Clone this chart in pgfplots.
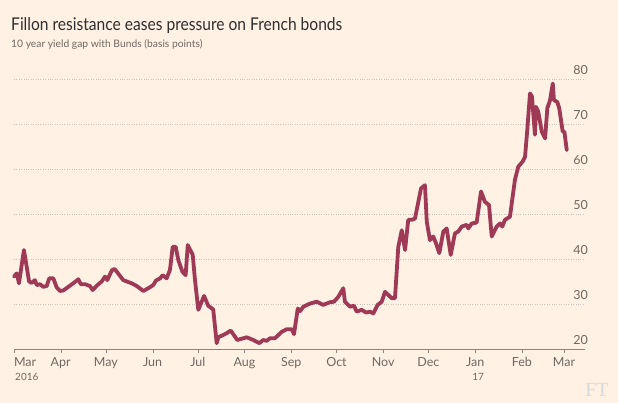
\documentclass[border=0pt]{standalone}
\usepackage{pgfplots}
\pgfplotsset{compat=1.18}
\usepackage{pgfplotstable}
\usepackage{fontspec}
\setmainfont{Lato}
\newfontfamily\ftserif{Liberation Serif}
\definecolor{bg}{HTML}{FFF1E4}
\definecolor{claret}{HTML}{9E3A56}
\definecolor{tickgray}{HTML}{6E6862}
\definecolor{gridgray}{HTML}{C9C0B7}
\definecolor{axisgray}{HTML}{8C857F}

\pgfplotstableread{
day val
0 36.1
1.8 36.8
3.3 34.6
6.6 42.0
8.4 38.3
10.0 35.0
11.7 34.7
13.9 35.3
15.1 34.2
17.3 34.4
19.4 33.8
21.7 34.0
23.4 35.7
26.1 35.7
28.3 33.7
30.5 32.9
32.7 33.0
36.0 33.8
39.3 34.6
42.7 35.5
44.3 34.4
47.1 34.4
50.4 34.0
52.2 33.1
55.3 34.2
58.2 35.0
60.4 36.1
61.9 35.3
64.8 37.4
65.9 37.7
67.0 37.7
72.5 35.3
78.1 34.6
81.4 34.0
85.8 32.9
89.1 33.5
92.4 34.2
94.2 35.2
96.9 35.7
98.7 36.4
101.3 35.7
103.5 37.6
105.3 42.7
107.3 42.7
109.0 39.8
111.7 37.2
113.9 36.4
115.3 43.1
118.6 40.9
120.1 35.3
122.3 28.7
126.1 31.8
128.9 29.6
132.2 28.8
134.5 21.3
135.6 22.6
141.1 23.5
143.8 24.1
148.2 22.0
154.4 22.6
158.8 22.0
162.8 21.3
165.4 22.0
167.7 21.8
169.9 22.4
173.2 22.4
177.6 23.8
181.0 24.4
184.3 24.4
185.8 23.3
188.3 29.0
189.8 28.4
192.0 29.4
196.4 30.1
200.9 30.5
205.2 29.8
209.7 30.4
212.3 30.5
215.2 31.6
218.5 33.5
219.6 30.5
223.0 29.4
225.6 29.6
227.4 28.3
230.7 28.7
233.6 28.1
236.2 28.3
238.4 27.9
241.3 29.8
244.0 30.5
246.2 32.7
248.4 32.0
250.6 31.3
252.8 31.3
255.0 42.7
257.3 46.4
259.5 42.0
261.6 48.7
263.9 48.7
266.1 49.0
268.3 52.7
270.1 55.7
272.7 56.4
273.9 48.3
276.0 44.2
278.2 45.0
280.0 43.5
282.2 41.3
284.9 46.1
287.1 46.8
289.8 40.9
292.6 45.7
294.8 46.1
297.1 47.2
300.4 47.6
301.5 46.8
303.7 47.9
307.0 48.1
309.9 55.0
312.5 52.7
315.2 52.0
317.0 45.0
320.3 47.2
322.5 47.9
324.0 47.2
325.8 48.7
329.1 49.4
330.3 52.4
332.4 57.6
334.6 60.5
337.6 61.7
339.1 62.7
340.6 68.7
342.4 76.8
343.7 76.1
345.7 67.6
346.4 73.8
347.9 72.7
350.2 68.3
352.4 66.8
353.9 73.5
355.7 75.3
357.5 79.0
358.3 75.3
360.5 74.9
361.8 73.5
364.1 68.3
365.2 68.3
366.8 64.2
}\spread

\begin{document}
\begin{tikzpicture}[x=1pt,y=1pt]
\fill[bg] (0,0) rectangle (618,403);
\node[anchor=base west, inner sep=0, font=\fontsize{17.6}{21}\selectfont, text=black!82] at (11,372.3) {\scalebox{0.885}[1]{Fillon resistance eases pressure on French bonds}};
\node[anchor=base west, inner sep=0, font=\fontsize{10.3}{12}\selectfont, text=tickgray] at (11,355.7) {10 year yield gap with Bunds (basis points)};
\node[font=\ftserif\fontsize{20}{22}\selectfont, text=black!15, inner sep=0] at (597,13) {FT};
\begin{axis}[
  at={(14pt,54pt)}, anchor=south west,
  scale only axis, width=571pt, height=279pt,
  xmin=0, xmax=378.9, ymin=20, ymax=82,
  axis x line=bottom, axis y line=right,
  x axis line style={draw=axisgray, -}, y axis line style={draw=none},
  xtick={0,31,61,92,122,153,184,214,245,275,306,337,365},
  xticklabels={\rlap{Mar},Apr,May,Jun,Jul,Aug,Sep,Oct,Nov,Dec,Jan,Feb,Mar},
  xtick style={draw=axisgray},
  tick align=outside, major tick length=4pt,
  ytick={20,30,40,50,60,70,80},
  ytick style={draw=none},
  ymajorgrids, grid style={gridgray, dotted, line width=0.8pt},
  /pgf/number format/assume math mode=true,
  ticklabel style={text=tickgray, font=\fontsize{12.5}{14}\selectfont},
  yticklabel style={anchor=south east, inner sep=0pt, xshift=-1pt, yshift=4pt},
  xticklabel style={anchor=base, inner sep=0pt, yshift=-14pt},
  clip=false,
]
\addplot[claret, line width=3.8pt, line join=round, line cap=round] table[x=day, y=val] {\spread};
\node[anchor=base west, inner sep=0, text=tickgray, font=\fontsize{10}{12}\selectfont] at (axis cs:0,20) [yshift=-32pt, xshift=1pt] {2016};
\node[anchor=base, inner sep=0, text=tickgray, font=\fontsize{10}{12}\selectfont] at (axis cs:306,20) [yshift=-32pt, xshift=3pt] {17};
\end{axis}
\end{tikzpicture}
\end{document}
